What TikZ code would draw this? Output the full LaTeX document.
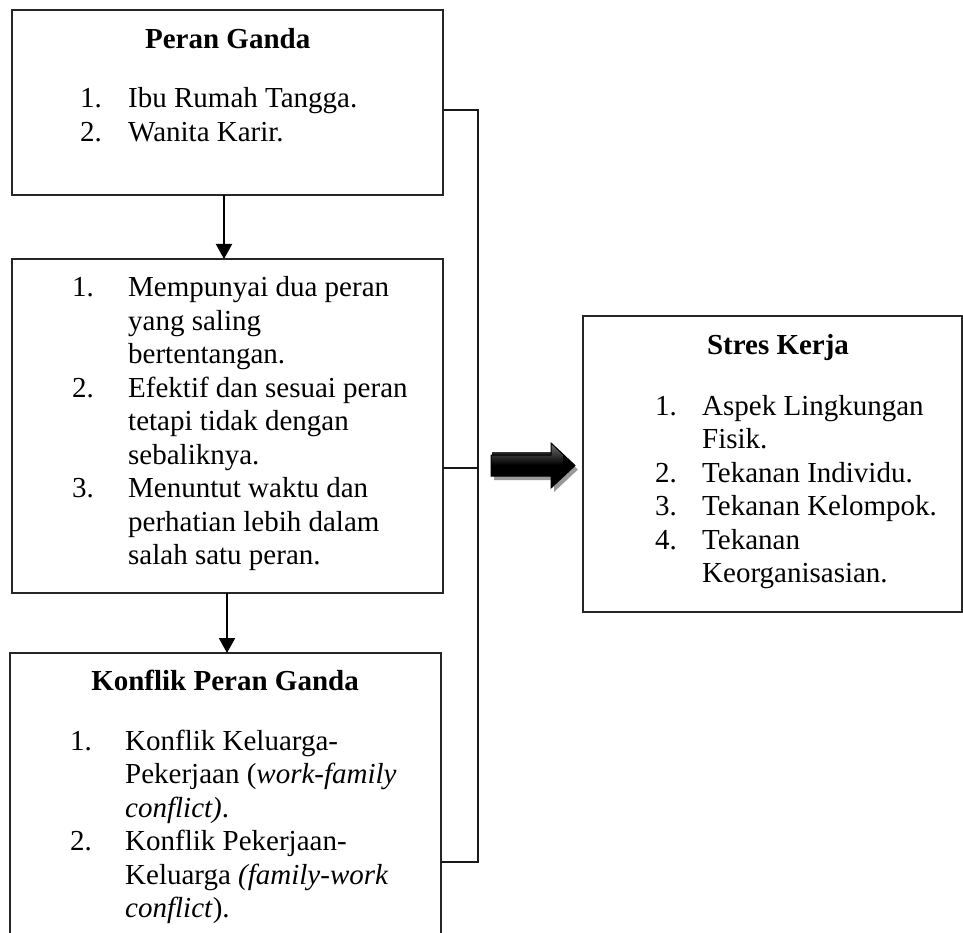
\documentclass[tikz,border=0pt]{standalone}
\usepackage{fontspec}
\setmainfont{Liberation Serif}
\usetikzlibrary{arrows.meta}
\begin{document}
\begin{tikzpicture}[x=1pt,y=-1pt,
  box/.style={draw=black!85,line width=1.6pt,anchor=north west,inner sep=0pt,outer sep=0pt},
  ttl/.style={anchor=base,inner sep=0pt,font=\fontsize{29}{33.5}\selectfont\bfseries},
  lst/.style={anchor=base west,inner sep=0pt,font=\fontsize{29}{33.5}\selectfont},
  conn/.style={line width=1.3pt,black!90},
  flow/.style={line width=2pt,-{Triangle[width=16pt,length=15pt]}}]
\useasboundingbox (0,0) rectangle (963,933);
\clip (0,0) rectangle (963,933);
\fill[white] (0,0) rectangle (963,933);

% boxes
\node[box,minimum width=431pt,minimum height=185pt] (b1) at (12,10) {};
\node[box,minimum width=431pt,minimum height=334pt] (b2) at (12,259) {};
\node[box,minimum width=431pt,minimum height=320pt] (b3) at (10,653) {};
\node[box,minimum width=379pt,minimum height=296pt] (b4) at (583,316) {};

% box 1
\node[ttl] (t1) at (227.7,48.3) {Peran Ganda};
\node[lst] (l1) at (80,108) {\begin{tabular}[t]{@{}p{48pt}@{}l@{}}
1. & Ibu Rumah Tangga.\\
2. & Wanita Karir.
\end{tabular}};

% box 2
\node[lst] (l2) at (72,296.7) {\begin{tabular}[t]{@{}p{56pt}@{}l@{}}
1. & Mempunyai dua peran\\
   & yang saling\\
   & bertentangan.\\
2. & Efektif dan sesuai peran\\
   & tetapi tidak dengan\\
   & sebaliknya.\\
3. & Menuntut waktu dan\\
   & perhatian lebih dalam\\
   & salah satu peran.
\end{tabular}};

% box 3
\node[ttl] (t3) at (225,690) {Konflik Peran Ganda};
\node[lst] (l3) at (70,750) {\begin{tabular}[t]{@{}p{55pt}@{}l@{}}
1. & Konflik Keluarga-\\
   & Pekerjaan (\textit{work-family}\\
   & \textit{conflict)}.\\
2. & Konflik Pekerjaan-\\
   & Keluarga \textit{(family-work}\\
   & \textit{conflict}).
\end{tabular}};

% box 4
\node[ttl] (t4) at (778,354) {Stres Kerja};
\node[lst] (l4) at (655,415) {\begin{tabular}[t]{@{}p{47pt}@{}l@{}}
1. & Aspek Lingkungan\\
   & Fisik.\\
2. & Tekanan Individu.\\
3. & Tekanan Kelompok.\\
4. & Tekanan\\
   & Keorganisasian.
\end{tabular}};

% vertical flow arrows
\coordinate (a1) at (224,0);
\coordinate (a2) at (227,0);
\draw[flow] (b1.south -| a1) -- (b2.north -| a1);
\draw[flow] (b2.south -| a2) -- (b3.north -| a2);

% bracket connector
\coordinate (j1) at (478,110);
\coordinate (j2) at (478,862);
\coordinate (j3) at (478,468);
\draw[conn] (b1.east |- j1) -- (j1) -- (j2) -- (b3.east |- j2);
\draw[conn] (b2.east |- j3) -- (j3);

% big block arrow with shadow
\fill[black!40] (494,459) -- (554,459) -- (554,447) -- (578,469.5) -- (554,492) -- (554,480) -- (494,480) -- cycle;
\fill[black] (491,455) -- (551,455) -- (551,443) -- (575,465.5) -- (551,488) -- (551,476) -- (491,476) -- cycle;
\shade[top color=black!50,bottom color=black]
  (492,456) -- (552,456) -- (552,446) -- (560,452) -- (492,452) -- cycle;
\shade[top color=black!55,bottom color=black]
  (491,455) -- (551,455) -- (551,443) -- (563,454) -- (563,465) -- (491,465) -- cycle;
\draw[black,line width=1pt]
  (491,455) -- (551,455) -- (551,443) -- (575,465.5) -- (551,488) -- (551,476) -- (491,476) -- cycle;
\end{tikzpicture}
\end{document}
